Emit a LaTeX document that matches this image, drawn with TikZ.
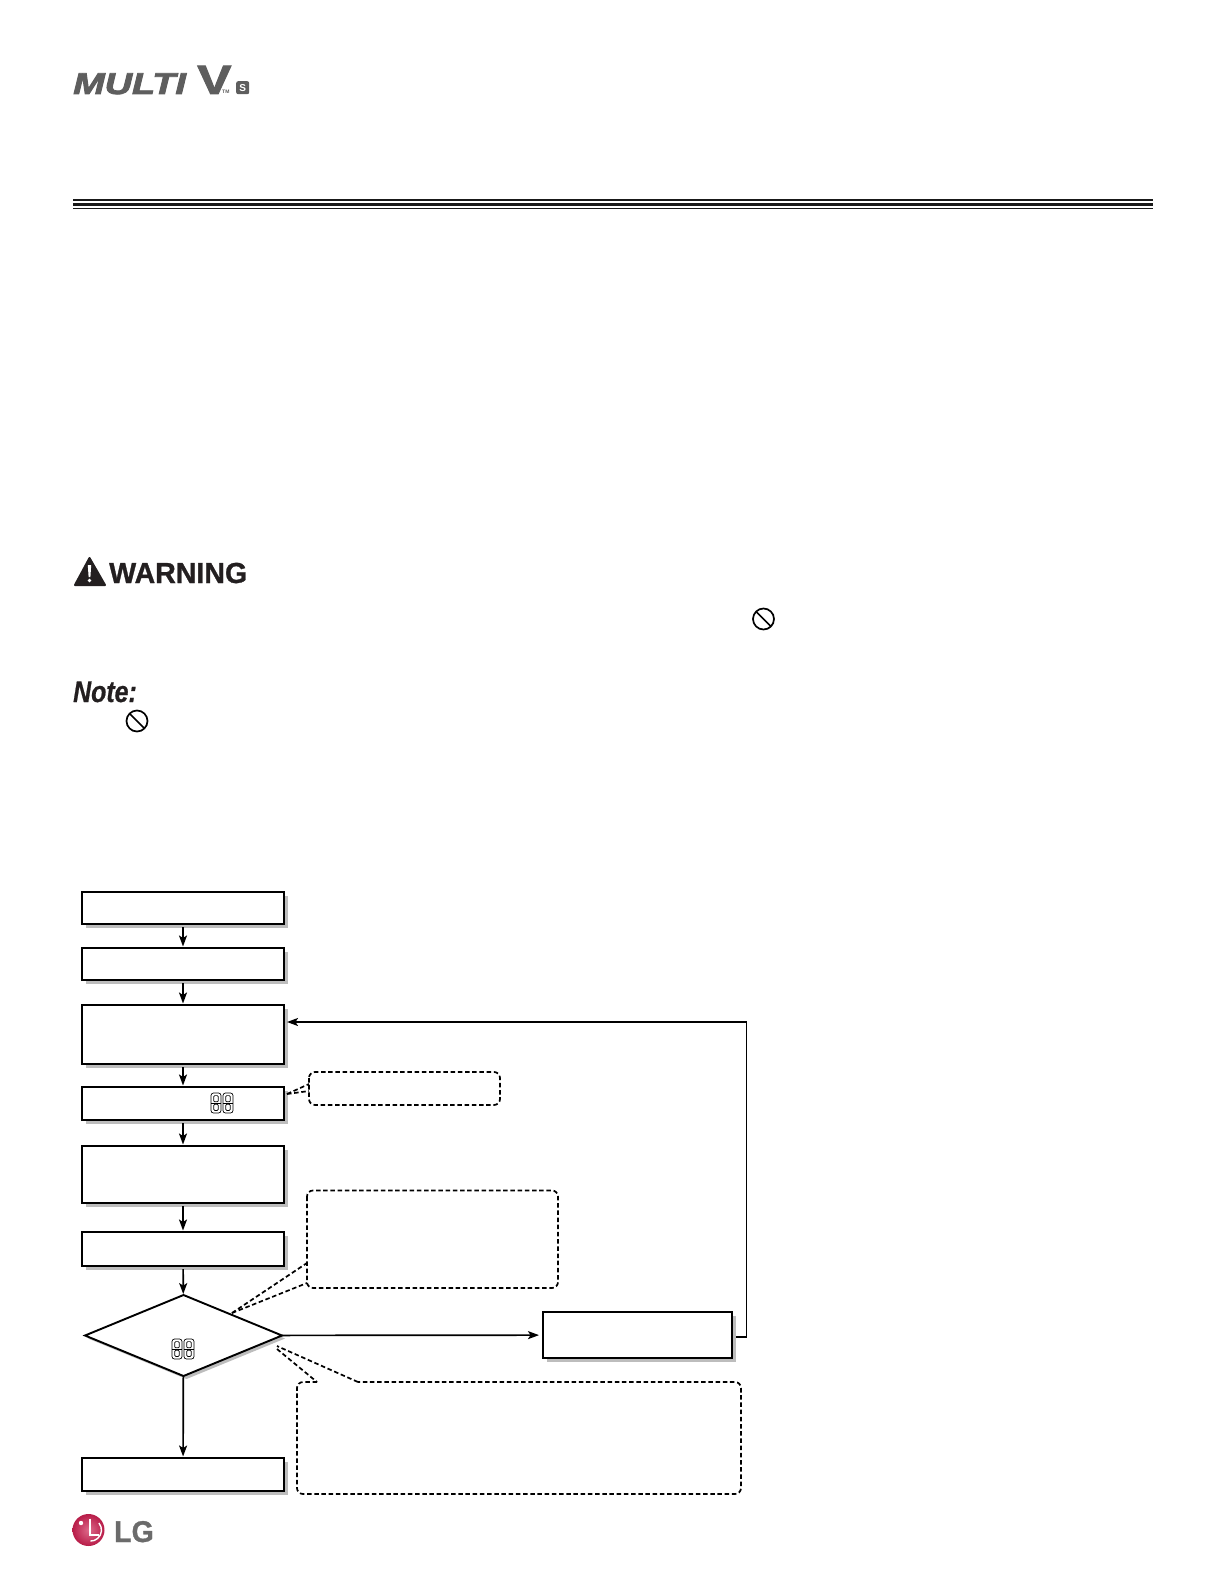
\documentclass[tikz,border=0pt]{standalone}
\usepackage{fontspec}
\setmainfont{Liberation Sans}
\newfontfamily\logofont[UprightFont=* Bold Italic,FakeBold=2.5]{Liberation Sans}
\newfontfamily\veefont[UprightFont=* Bold,FakeBold=2]{Liberation Sans}
\newfontfamily\warnfont[UprightFont=* Bold,FakeBold=1]{Liberation Sans}
\newfontfamily\notefont[UprightFont=* Bold Italic,FakeBold=.7]{Liberation Sans}
\usetikzlibrary{arrows.meta,shapes.geometric,shadows}
\definecolor{shadowgrey}{HTML}{BDBDBD}
\definecolor{logogrey}{HTML}{5E5E5E}
\definecolor{inkblack}{HTML}{231F20}
\definecolor{lgredin}{HTML}{DD6A8A}
\definecolor{lgred}{HTML}{B81C48}
\definecolor{lggrey}{HTML}{6B6B6B}
\tikzset{
  flowbox/.style={draw=black,fill=white,line width=2pt,inner sep=0pt,outer sep=0pt,minimum width=202pt,anchor=north west,
    general shadow={shadow xshift=4pt,shadow yshift=-3.5pt,fill=shadowgrey}},
  decisionbox/.style={diamond,draw=black,fill=white,line width=1.9pt,inner sep=0pt,outer sep=0pt,aspect=2.43,minimum width=197pt,minimum height=81pt,
    general shadow={shadow xshift=3pt,shadow yshift=-3pt,fill=shadowgrey}},
  link/.style={draw=black,line width=1.7pt,-{Stealth[length=11pt,width=8pt,inset=2.5pt]}},
  plainlink/.style={draw=black,line width=1.7pt},
  callout/.style={draw=black,line width=1.7pt,dash pattern=on 4.5pt off 2.7pt,rounded corners=6pt},
  calltail/.style={draw=black,line width=1.7pt,dash pattern=on 4.5pt off 2.7pt},
  segline/.style={draw=black,line width=.7pt},
  nosign/.style={draw=black,line width=1.7pt}
}
\newcommand{\twodigits}[2]{%
  \foreach \dx in {0,12}{%
    \begin{scope}[shift={(#1+\dx,#2)}]
      \draw[segline,rounded corners=2.5pt] (0,0) rectangle (10,20);
      \draw[segline,rounded corners=1pt] (2.8,2.6) rectangle (7.2,8.8);
      \draw[segline,rounded corners=1pt] (2.8,11.2) rectangle (7.2,17.4);
      \draw[segline] (0,10) -- (10,10);
    \end{scope}}}
\newcommand{\prohibit}[2]{%
  \draw[nosign] (#1,#2) circle (10.5pt);
  \draw[nosign] (#1-7.4,#2-7.4) -- (#1+7.4,#2+7.4);}
\begin{document}
\begin{tikzpicture}[x=1pt,y=-1pt]
\useasboundingbox (0,0) rectangle (1224,1584);
\fill[white] (0,0) rectangle (1224,1584);
% logo
\node[anchor=base west,inner sep=0pt,text=logogrey,xscale=1.26,font=\fontsize{30}{30}\logofont\selectfont] (multi) at (73,94) {MULTI};
\node[anchor=base west,inner sep=0pt,text=logogrey,xscale=1.25,font=\fontsize{41}{41}\veefont\selectfont] (vee) at (197,94) {V};
\node[anchor=base west,inner sep=0pt,text=logogrey,font=\fontsize{5}{5}\selectfont\bfseries] (tm) at (222,94) {TM};
\node[anchor=north west,inner sep=0pt,fill=logogrey,rounded corners=2pt,minimum width=13pt,minimum height=13pt,text=white,font=\fontsize{10}{10}\selectfont\bfseries] (ess) at (236,81) {S};
% rule
\fill[black!90] (73,199) rectangle (1153,201);
\fill[black!90] (73,203.3) rectangle (1153,206);
\fill[black!90] (73,207.8) rectangle (1153,209);
% warning
\fill[inkblack,line join=round,draw=inkblack,line width=2pt] (89.5,558) -- (105,585) -- (75,585) -- cycle;
\fill[white] (87.8,565) -- (91.2,565) -- (90.4,577) -- (88.6,577) -- cycle;
\fill[white] (89.5,580.5) circle (1.8pt);
\node[anchor=base west,inner sep=0pt,text=inkblack,xscale=.985,font=\fontsize{29}{29}\warnfont\selectfont] (warn) at (109,583) {WARNING};
\prohibit{763.5}{619}
% note
\node[anchor=base west,inner sep=0pt,text=inkblack,xscale=.83,font=\fontsize{30}{30}\notefont\selectfont] (note) at (73,702) {Note:};
\prohibit{137}{721}
% flow boxes
\node[flowbox,minimum height=32pt] (b1) at (82,892) {};
\node[flowbox,minimum height=32pt] (b2) at (82,948) {};
\node[flowbox,minimum height=59pt] (b3) at (82,1005) {};
\node[flowbox,minimum height=33pt] (b4) at (82,1087) {};
\node[flowbox,minimum height=57pt] (b5) at (82,1146) {};
\node[flowbox,minimum height=34pt] (b6) at (82,1232) {};
\node[decisionbox] (dec) at (183.5,1335.5) {};
\node[flowbox,minimum height=33pt] (b7) at (82,1458) {};
\node[flowbox,minimum width=189pt,minimum height=46pt] (fix) at (543,1312) {};
% connectors
\draw[link,shorten <=3pt,shorten >=1.5pt] (b1) -- (b2);
\draw[link,shorten <=3pt,shorten >=1.5pt] (b2) -- (b3);
\draw[link,shorten <=3pt,shorten >=1.5pt] (b3) -- (b4);
\draw[link,shorten <=3pt,shorten >=1.5pt] (b4) -- (b5);
\draw[link,shorten <=3pt,shorten >=1.5pt] (b5) -- (b6);
\draw[link,shorten <=3pt,shorten >=1pt] (b6) -- (dec);
\draw[link,shorten >=1.5pt] (dec) -- (b7);
\draw[link,shorten >=4pt] (dec) -- (fix);
\coordinate (loop) at (746.5,1022);
\draw[plainlink,line cap=rect] ([xshift=5pt,yshift=-2pt]fix.east) -| (loop);
\draw[link,shorten >=3pt] (loop) -- (b3.east |- loop);
% digits
\twodigits{211}{1093}
\twodigits{172}{1339}
% callouts
\draw[callout] (309,1072) rectangle (500,1105);
\draw[calltail] (287,1094) -- (309,1084);
\draw[calltail] (287,1094) -- (309,1091);
\draw[callout] (307,1190.5) rectangle (558,1288);
\draw[calltail] (232,1313) -- (307,1263);
\draw[calltail] (232,1313) -- (307,1283);
\draw[callout] (317,1382) -- (297,1382) -- (297,1494) -- (741,1494) -- (741,1382) -- (358,1382);
\draw[calltail] (358,1382) -- (277,1346);
\draw[calltail] (277,1349) -- (317,1382);
% LG logo
\shade[inner color=lgredin,outer color=lgred] (88.5,1530) circle (16pt);
\fill[white] (81,1523) circle (2.2pt);
\draw[white,line width=1.8pt] (90,1518.5) -- (90,1535) -- (99,1535);
\draw[white,line width=1.4pt] (98.9,1523) arc (40:-90:11pt);
\node[anchor=base west,inner sep=0pt,text=lggrey,xscale=.95,font=\fontsize{30}{30}\warnfont\selectfont] (lg) at (114,1542) {LG};
\end{tikzpicture}
\end{document}
